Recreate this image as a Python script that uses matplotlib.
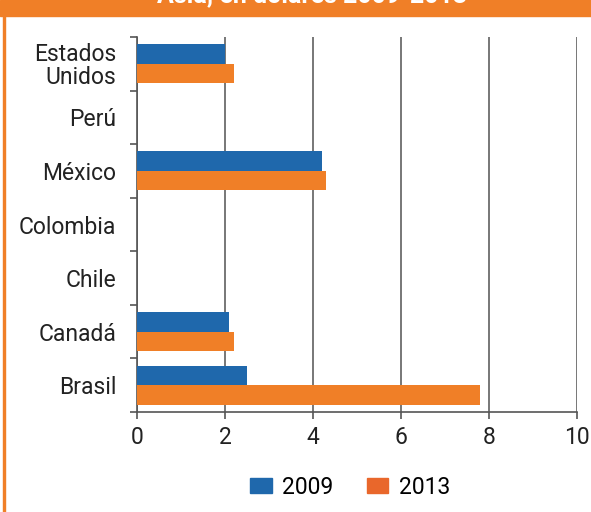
import numpy as np
import matplotlib.pyplot as plt
from matplotlib.patches import Patch, Rectangle

plt.rcParams['font.family'] = ['Roboto', 'DejaVu Sans']

paises = ['Brasil', 'Canadá', 'Chile', 'Colombia', 'México', 'Perú', 'Estados\nUnidos']
v2009 = [2.5, 2.1, 0, 0, 4.2, 0, 2.0]
v2013 = [7.8, 2.2, 0, 0, 4.3, 0, 2.2]
xticks = [0, 2, 4, 6, 8, 10]

azul = '#1f68ac'
naranja = '#f07f27'

fig = plt.figure(figsize=(5.91, 5.12), dpi=100)
W, H = 591, 512
ax = fig.add_axes([137 / W, 1 - 412 / H, 440 / W, 375 / H])

y = np.arange(len(paises))
h = 0.365
ax.barh(y + h / 2, v2009, height=h, color=azul, zorder=3)
ax.barh(y - h / 2, v2013, height=h, color=naranja, zorder=3)

ax.set_xlim(0, 10)
ax.set_ylim(-0.5, len(paises) - 0.5)
ax.set_xticks(xticks)
ax.set_xticklabels([str(t) for t in xticks], fontsize=16.5, color='#222222')
ax.set_yticks(y)
ax.set_yticklabels(paises, fontsize=16.5, color='#222222', linespacing=1.0)
ax.set_yticks(np.arange(len(paises) + 1) - 0.5, minor=True)
ax.tick_params(axis='y', which='major', length=0, pad=15)
ax.tick_params(axis='y', which='minor', length=5, width=1.2, color='#555555')
ax.tick_params(axis='x', length=5, width=1.2, color='#555555', pad=5)
ax.grid(axis='x', color='#777777', linewidth=1.4, zorder=0)
for s in ['top', 'right']:
    ax.spines[s].set_visible(False)
for s in ['left', 'bottom']:
    ax.spines[s].set_color('#555555')
    ax.spines[s].set_linewidth(1.2)

# leyenda
handles = [Patch(color=azul, label='2009'), Patch(color='#e9672b', label='2013')]
fig.legend(handles=handles, loc='center', bbox_to_anchor=(350 / W, 1 - 487 / H),
           ncol=2, frameon=False, fontsize=16.5, handlelength=0.95, handleheight=0.6,
           columnspacing=1.45, handletextpad=0.45)

# marco naranja y título
fig.patches.append(Rectangle((0, 1 - 16 / H), 1, 16 / H, transform=fig.transFigure,
                             color=naranja, zorder=0))
fig.patches.append(Rectangle((3 / W, 0), 2 / W, 1, transform=fig.transFigure,
                             color=naranja, zorder=0))
fig.text(312 / W, 1 - 2.5 / H, 'Asia, en dólares 2009-2013', color='white',
         fontsize=18, fontweight='bold', ha='center', va='baseline')

fig.savefig('out.png', dpi=100, facecolor='white')
